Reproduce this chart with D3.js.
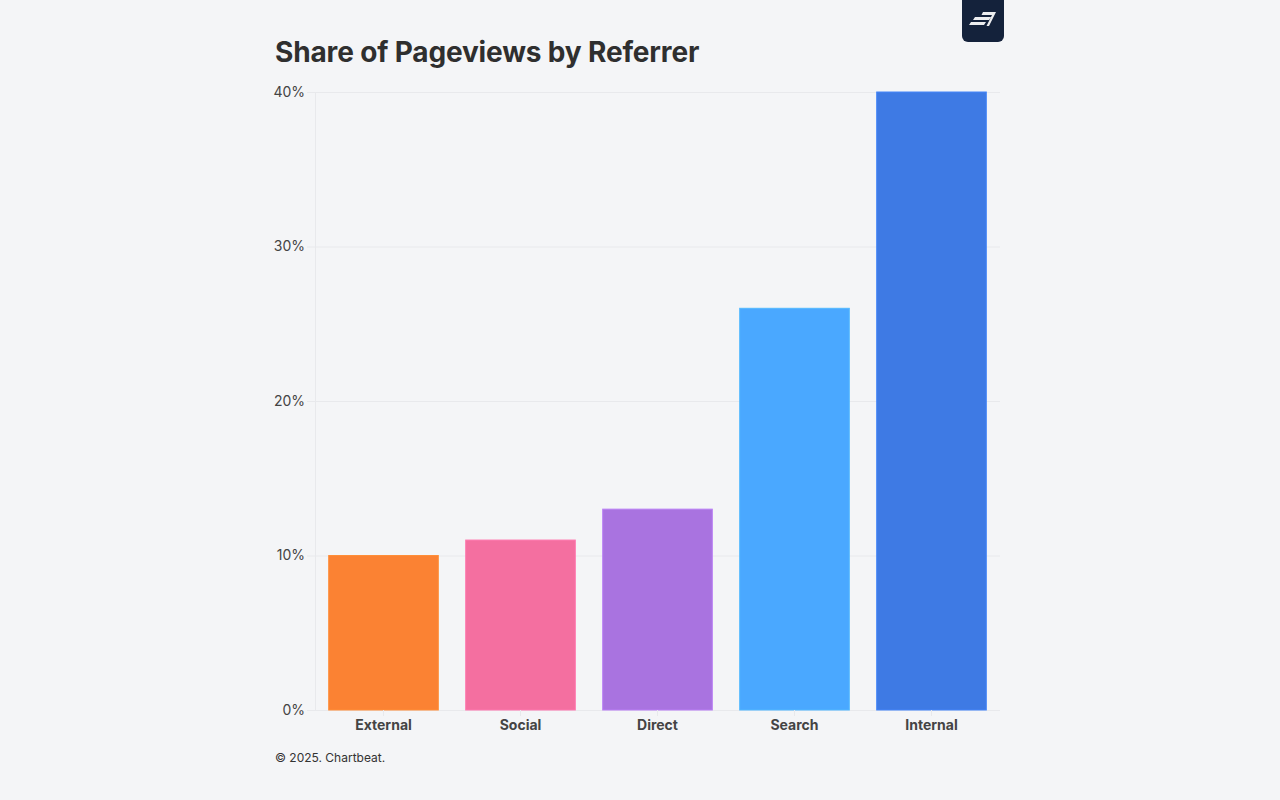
<!DOCTYPE html>
<html>
<head>
<meta charset="utf-8">
<script src="https://cdn.jsdelivr.net/npm/d3@7"></script>
<style>
  body { margin: 0; background: #f4f5f7; }
  svg { display: block; }
</style>
</head>
<body>
<script>
// chart data
const referrers = ["External", "Social", "Direct", "Search", "Internal"];
const shares = [10, 11, 13, 26, 40];
const barColors = ["#fb8233", "#f46fa0", "#a973e0", "#4aa8ff", "#3e7ae4"];
const yTicks = [0, 10, 20, 30, 40];

const width = 1280, height = 800;
const margin = { left: 315, right: 280, top: 92, bottom: 90 };

const svg = d3.select("body").append("svg")
    .attr("width", width)
    .attr("height", height);

svg.append("rect")
    .attr("width", width)
    .attr("height", height)
    .attr("fill", "#f4f5f7");

const x = d3.scaleBand()
    .domain(referrers)
    .range([margin.left, width - margin.right])
    .paddingInner(0.2)
    .paddingOuter(0.1);

const y = d3.scaleLinear()
    .domain([0, 40])
    .range([height - margin.bottom, margin.top]);

// title
svg.append("text")
    .attr("x", 275)
    .attr("y", 62)
    .attr("fill", "#2f2f2f")
    .attr("font-family", "Inter, 'Noto Sans', sans-serif")
    .attr("font-size", "28px")
    .attr("font-weight", 700)
    .attr("letter-spacing", "-0.15px")
    .text("Share of Pageviews by Referrer");

// gridlines + y labels
const yAxis = svg.append("g")
    .attr("transform", `translate(${margin.left},0)`)
    .call(d3.axisLeft(y)
        .tickValues(yTicks)
        .tickSize(-(width - margin.right - margin.left))
        .tickPadding(10)
        .tickFormat(d => d + "%"));
yAxis.select(".domain").remove();
yAxis.selectAll(".tick line")
    .attr("x1", -8)
    .attr("stroke", "#e8e9ec")
    .attr("stroke-width", 1);
yAxis.selectAll(".tick text")
    .attr("fill", "#444")
    .attr("font-family", "Inter, 'Noto Sans', sans-serif")
    .attr("font-size", "14px");

// vertical axis line
svg.append("line")
    .attr("x1", margin.left + 0.5)
    .attr("x2", margin.left + 0.5)
    .attr("y1", y(40))
    .attr("y2", y(0) + 1)
    .attr("stroke", "#e8e9ec");

// bars
svg.append("g")
    .selectAll("rect")
    .data(referrers)
    .join("rect")
    .attr("x", d => x(d))
    .attr("width", x.bandwidth())
    .attr("y", (d, i) => y(shares[i]))
    .attr("height", (d, i) => y(0) - y(shares[i]))
    .attr("fill", (d, i) => barColors[i])
    .attr("stroke", (d, i) => d3.color(barColors[i]).brighter(0.25))
    .attr("stroke-width", 1);

// x axis labels
const xAxis = svg.append("g")
    .attr("transform", `translate(0,${y(0)})`)
    .call(d3.axisBottom(x).tickSize(6).tickPadding(4));
xAxis.select(".domain").remove();
xAxis.selectAll(".tick line").attr("stroke", "#e8e9ec");
xAxis.selectAll(".tick text")
    .attr("fill", "#444")
    .attr("font-family", "Inter, 'Noto Sans', sans-serif")
    .attr("font-size", "14px")
    .attr("font-weight", 700);

// footer
svg.append("text")
    .attr("x", 275)
    .attr("y", 762)
    .attr("fill", "#333")
    .attr("font-family", "Inter, 'Noto Sans', sans-serif")
    .attr("font-size", "12px")
    .text("\u00a9 2025. Chartbeat.");

// logo badge
const logo = svg.append("g").attr("transform", "translate(962,-8)");
logo.append("rect")
    .attr("width", 42)
    .attr("height", 50)
    .attr("rx", 6)
    .attr("fill", "#14223b");
logo.append("path")
    .attr("d", "M9,30 L24,30 L22,33 L7,33 Z M13,25 L29,25 L27,28 L11,28 Z M21,20 L34,20 L27,34 L24.5,34 L30,23 L19.5,23 Z")
    .attr("fill", "#ffffff")
    .attr("opacity", 0.92);
</script>
</body>
</html>
